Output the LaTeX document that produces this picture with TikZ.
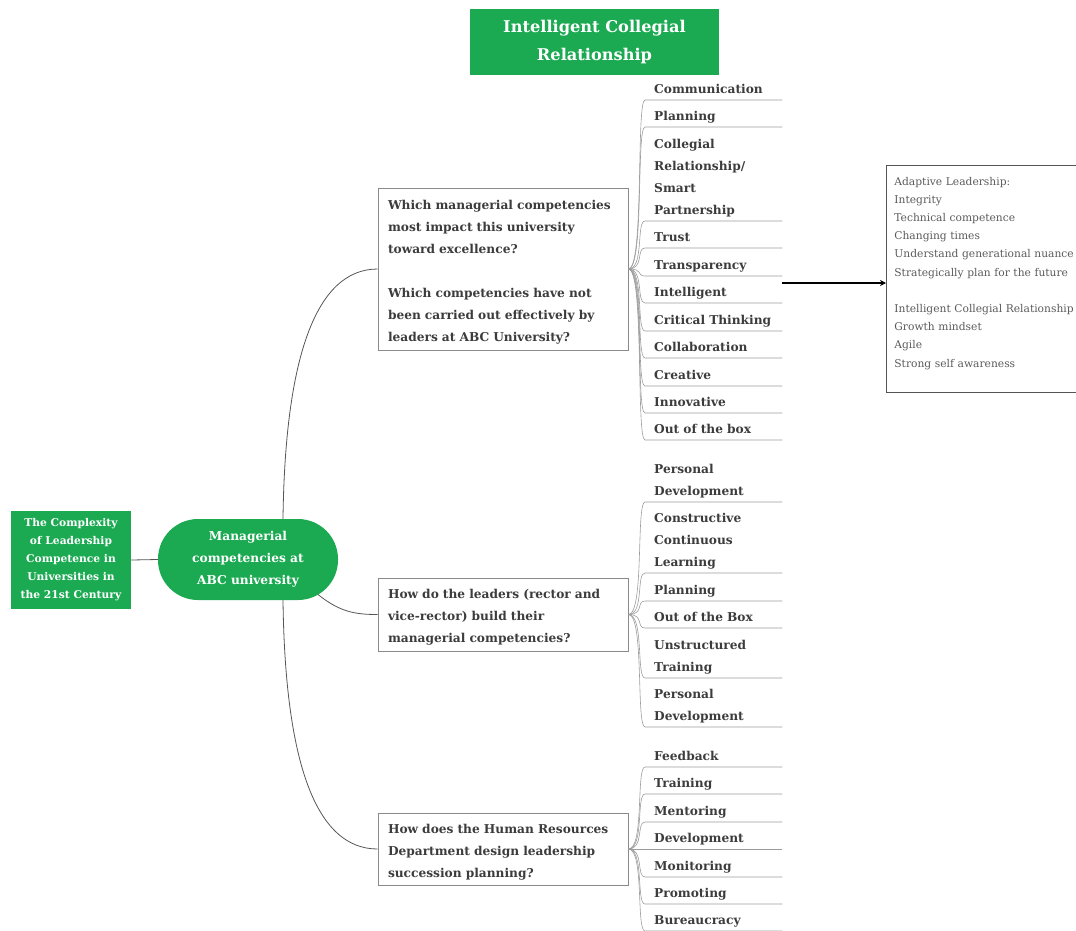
\documentclass[tikz,border=0pt]{standalone}
\usepackage{fontspec}
\setmainfont{DejaVu Serif}
\usepackage{tikz}
\usetikzlibrary{arrows.meta,positioning,calc}
\definecolor{icgreen}{HTML}{1BAA52}
\definecolor{inkgrey}{HTML}{3C3C3C}
\definecolor{notegrey}{HTML}{5A5A5A}
\definecolor{rimgrey}{HTML}{8A8A8A}
\definecolor{twiggrey}{HTML}{9C9C9C}
\definecolor{stemgrey}{HTML}{555555}
\tikzset{
  gbox/.style={fill=icgreen, text=white, align=center, inner sep=0pt},
  qbox/.style={draw=rimgrey, line width=0.8pt, fill=white, text=inkgrey,
               align=left, text width=230pt, inner xsep=10pt,
               minimum width=250pt, execute at begin node=\strut,
               font=\fontsize{12.2}{22}\selectfont\bfseries},
  leaf/.style={text=inkgrey, align=left, text width=128pt, inner xsep=0pt,
               inner ysep=0pt, anchor=south west,
               font=\fontsize{12.2}{22}\selectfont\bfseries},
  twig/.style={draw=twiggrey, line width=0.6pt},
  stem/.style={draw=stemgrey, line width=0.8pt},
  notebox/.style={draw=stemgrey, line width=0.8pt, text=notegrey, align=left,
                  text width=190pt, inner xsep=8pt, inner ysep=11.5pt,
                  anchor=north west, font=\fontsize{10.7}{18.2}\selectfont},
  pointer/.style={-{Stealth[length=6pt,width=6pt]}, line width=2.4pt, draw=black},
}

\begin{document}
\begin{tikzpicture}[x=1pt, y=-1pt]
\useasboundingbox (0,0) rectangle (1076,930);

% ---------- green heads ---------------------------------------------------
\node[gbox, minimum width=249pt, minimum height=66pt,
      font=\fontsize{16.2}{28}\selectfont\bfseries] (title) at (594.5,42)
   {Intelligent Collegial\\Relationship};
\node[gbox, minimum width=120pt, minimum height=98pt,
      font=\fontsize{10.7}{18}\selectfont\bfseries] (root) at (71,560)
   {The Complexity\\of Leadership\\Competence in\\Universities in\\the 21st Century};
\node[gbox, rounded corners=40pt, minimum width=180pt, minimum height=81pt,
      font=\fontsize{12.2}{22}\selectfont\bfseries] (pill) at (248,559.5)
   {Managerial\\competencies at\\ABC university};
\draw[stem] (root.east) -- (pill.west);

% ---------- questions -----------------------------------------------------
\node[qbox, minimum height=162pt] (q1) at (503,269)
   {Which managerial competencies\\most impact this university\\toward excellence?\\[22pt]
    Which competencies have not\\been carried out effectively by\\leaders at ABC University?};
\node[qbox, minimum height=73pt] (q2) at (503,614.5)
   {How do the leaders (rector and\\vice-rector) build their\\managerial competencies?};
\node[qbox, minimum height=72pt] (q3) at (503,849)
   {How does the Human Resources\\Department design leadership\\succession planning?};

\draw[stem] ($(pill.north)+(35,0)$) .. controls (285,360) and (315,269) .. (q1.west);
\draw[stem] ($(pill.center)+(70,35)$) .. controls (340,612) and (355,614.5) .. (q2.west);
\draw[stem] ($(pill.south)+(35,0)$) .. controls (285,760) and (315,849) .. (q3.west);

% ---------- answers, y = the underline ------------------------------------
\foreach \y/\t [count=\i] in {100/Communication, 127/Planning,
    221/{Collegial\\Relationship/\\Smart\\Partnership}, 248/Trust,
    276/Transparency, 303/Intelligent, 331/Critical Thinking,
    358/Collaboration, 386/Creative, 413/Innovative, 440/Out of the box}{
  \node[leaf] (a1-\i) at (654,\y) {\t\strut};
  \draw[twig] (q1.east) .. controls +(16,0) and +(-9,0)
     .. ($(a1-\i.south west)+(-9,0)$) -- (a1-\i.south east);}
\foreach \y/\t [count=\i] in {502/{Personal\\Development},
    573/{Constructive\\Continuous\\Learning}, 601/Planning, 628/Out of the Box,
    678/{Unstructured\\Training}, 727/{Personal\\Development}}{
  \node[leaf] (a2-\i) at (654,\y) {\t\strut};
  \draw[twig] (q2.east) .. controls +(16,0) and +(-9,0)
     .. ($(a2-\i.south west)+(-9,0)$) -- (a2-\i.south east);}
\foreach \y/\t [count=\i] in {767/Feedback, 794/Training, 822/Mentoring,
    849/Development, 877/Monitoring, 904/Promoting, 931/Bureaucracy}{
  \node[leaf] (a3-\i) at (654,\y) {\t\strut};
  \draw[twig] (q3.east) .. controls +(16,0) and +(-9,0)
     .. ($(a3-\i.south west)+(-9,0)$) -- (a3-\i.south east);}

% ---------- the note ------------------------------------------------------
\node[notebox] (note) at (886,165)
   {Adaptive Leadership:\\Integrity\\Technical competence\\Changing times\\
    Understand generational nuance\\Strategically plan for the future\\[18.2pt]
    Intelligent Collegial Relationship\\Growth mindset\\Agile\\
    Strong self awareness\rule[-13.5pt]{0pt}{13.5pt}};
\coordinate (from) at ($(a1-5.south east)+(0,7)$);
\draw[pointer] (from) -- (from -| note.west);
\end{tikzpicture}
\end{document}
